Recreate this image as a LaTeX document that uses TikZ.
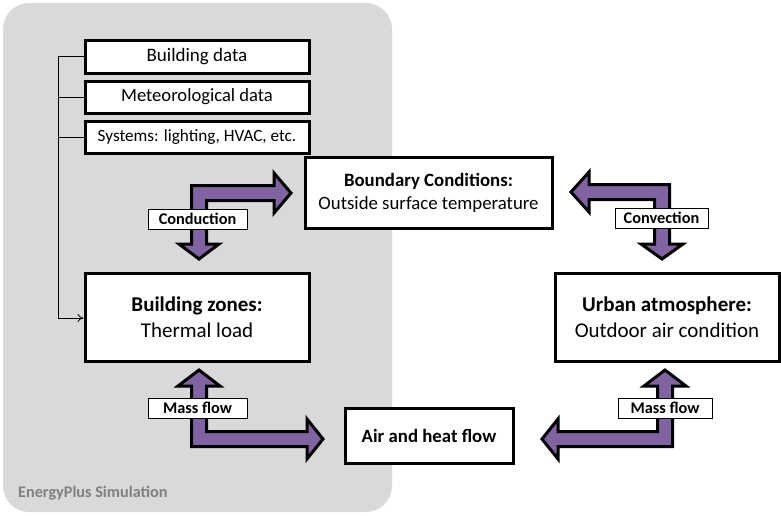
\documentclass[tikz,border=0pt]{standalone}
\usepackage{fontspec}
\setmainfont{Carlito}
\usetikzlibrary{arrows.meta}
\definecolor{bgray}{HTML}{D9D9D9}
\definecolor{apurple}{HTML}{8064A2}
\definecolor{tgray}{HTML}{808080}
\tikzset{
  box/.style={draw=black, line width=3pt, fill=white, inner sep=0pt, align=center},
  lbl/.style={draw=black, line width=0.9pt, fill=white, inner sep=0pt, font=\fontsize{16.3}{18}\selectfont\bfseries},
  fatarrow/.style={draw=black, line width=3pt, fill=apurple, line join=miter},
  thin/.style={draw=black, line width=0.8pt},
}
\begin{document}
\begin{tikzpicture}[x=1pt,y=-1pt]
\useasboundingbox (0,0) rectangle (781,515);
% background
\fill[bgray, rounded corners=26pt] (3,3) rectangle (392,512);
\node[anchor=west, text=tgray, font=\fontsize{16.2}{18}\selectfont\bfseries, inner sep=0pt] (ep) at (18,493) {EnergyPlus Simulation};

% boxes
\node[box, minimum width=224pt, minimum height=33pt, font=\fontsize{19}{20}\selectfont] (bd) at (197,56.5) {Building data};
\node[box, minimum width=224pt, minimum height=32pt, font=\fontsize{18.6}{20}\selectfont] (md) at (197,97) {Meteorological data};
\node[box, minimum width=224pt, minimum height=32pt, font=\fontsize{17.2}{19}\selectfont] (sy) at (197,137) {Systems: lighting, HVAC, etc.};
\node[box, minimum width=247pt, minimum height=71pt, font=\fontsize{18.8}{23}\selectfont] (bc) at (428.5,193) {\textbf{Boundary Conditions:}\\Outside surface temperature};
\node[box, minimum width=224pt, minimum height=88pt, font=\fontsize{21}{26}\selectfont] (bz) at (197,317) {\textbf{Building zones:}\\Thermal load};
\node[box, minimum width=224pt, minimum height=88pt, font=\fontsize{21}{26}\selectfont] (ua) at (667,317) {\textbf{Urban atmosphere:}\\Outdoor air condition};
\node[box, minimum width=168pt, minimum height=55pt, font=\fontsize{18.8}{20}\selectfont\bfseries] (ah) at (429,436) {Air and heat flow};

% bracket
\coordinate (t0) at (58,56.5);
\coordinate (t1) at (58,97);
\coordinate (t2) at (58,137);
\coordinate (t3) at (58,318);
\draw[thin] (t0) -- (t3);
\draw[thin] (t0) -- (bd.west);
\draw[thin] (t1) -- (md.west);
\draw[thin] (t2) -- (sy.west);
\draw[thin, -{To[length=6pt,width=8pt]}] (t3) -- (bz.west |- t3);

% fat arrows
\draw[fatarrow] (191.5,185.5) -- (274,185.5) -- (274,173) -- (291,193) -- (274,213) -- (274,200.5) -- (206.5,200.5) -- (206.5,244) -- (219,244) -- (199,259) -- (179,244) -- (191.5,244) -- cycle;
\draw[fatarrow] (669.5,184.5) -- (669.5,244) -- (683,244) -- (662,259) -- (641,244) -- (654.5,244) -- (654.5,199.5) -- (589,199.5) -- (589,212) -- (571,192) -- (589,172) -- (589,184.5) -- cycle;
\draw[fatarrow] (191.5,446.5) -- (191.5,386) -- (178,386) -- (199,370) -- (220,386) -- (206.5,386) -- (206.5,431.5) -- (307,431.5) -- (307,419) -- (323,439) -- (307,459) -- (307,446.5) -- cycle;
\draw[fatarrow] (672.5,446.5) -- (672.5,386) -- (686,386) -- (665,370) -- (644,386) -- (657.5,386) -- (657.5,431.5) -- (558,431.5) -- (558,419) -- (542,439) -- (558,459) -- (558,446.5) -- cycle;

% labels
\node[lbl, minimum width=99pt, minimum height=20pt] (lc) at (197.5,219) {Conduction};
\node[lbl, minimum width=93pt, minimum height=20pt] (lv) at (661.5,218) {Convection};
\node[lbl, minimum width=99pt, minimum height=20pt] (lm1) at (197.5,408) {Mass flow};
\node[lbl, minimum width=94pt, minimum height=20pt] (lm2) at (665,408) {Mass flow};
\end{tikzpicture}
\end{document}
